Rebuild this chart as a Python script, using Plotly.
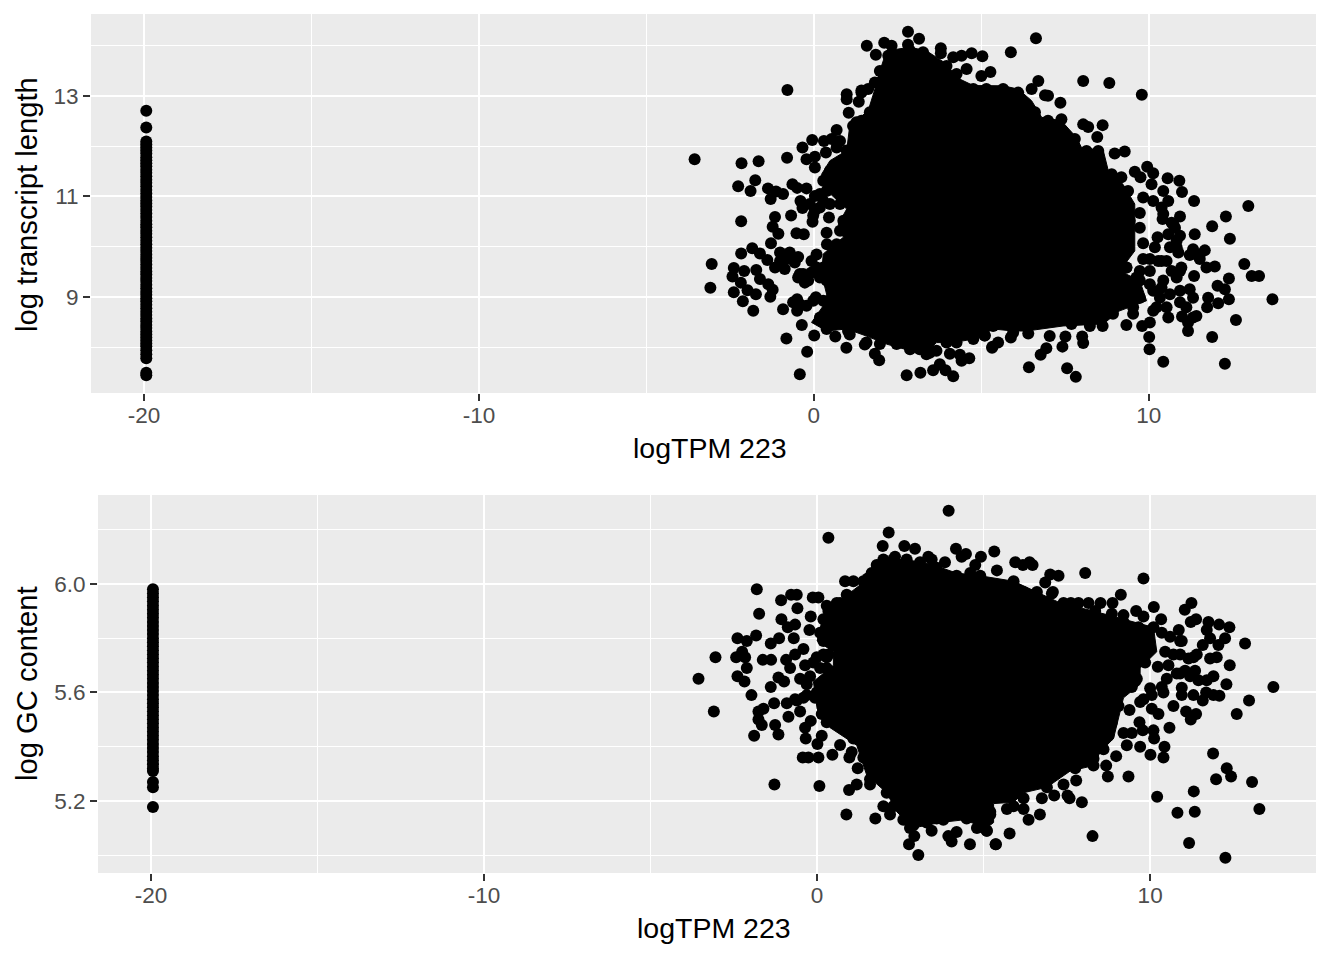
import plotly.graph_objects as go

# Panel 1: logTPM vs log transcript length
top_rail_x = -19.93
top_rail_y = [12.70, 12.37, 12.09, 12.03, 11.97, 11.91, 11.85, 11.78, 11.72, 11.66, 11.60, 11.53, 11.47, 11.40, 11.33,
              11.27, 11.20, 11.13, 11.06, 10.99, 10.92, 10.86, 10.80, 10.73, 10.66, 10.59, 10.52, 10.45, 10.39, 10.32,
              10.26, 10.19, 10.12, 10.05, 9.98, 9.92, 9.85, 9.78, 9.72, 9.65, 9.58, 9.51, 9.45, 9.38, 9.32, 9.25,
              9.18, 9.11, 9.05, 8.98, 8.92, 8.85, 8.78, 8.71, 8.65, 8.58, 8.52, 8.45, 8.39, 8.32, 8.26, 8.20, 8.14,
              8.08, 8.03, 7.95, 7.87, 7.79, 7.50, 7.45]
top_core = [(2.17,13.89),(2.87,13.96),(3.36,13.89),(3.96,13.63),(4.26,13.36),(4.76,13.20),(5.65,13.195),(6.10,13.13),
            (6.50,12.90),(6.80,12.57),(7.39,12.50),(7.84,12.17),(7.99,11.97),(8.64,11.91),(8.79,11.51),(9.23,11.24),
            (9.58,10.85),(9.58,10.38),(9.58,9.92),(9.13,9.52),(9.73,9.33),(9.93,8.93),(9.13,8.73),(8.64,8.47),
            (7.44,8.43),(6.35,8.33),(5.95,8.33),(5.35,8.37),(4.76,8.17),(4.16,8.10),(3.66,8.10),(3.36,7.90),
            (2.87,7.94),(2.17,8.07),(1.57,8.23),(0.98,8.37),(0.38,8.33),(-0.07,8.50),(0.28,8.83),(0.38,9.06),
            (0.23,9.46),(0.28,9.86),(0.88,10.19),(0.73,10.45),(0.98,10.75),(0.28,11.18),(0.23,11.44),(0.48,11.71),
            (0.98,11.91),(1.07,12.40),(1.62,12.70),(1.87,13.23),(1.97,13.49),(2.17,13.89)]
top_edge = [(1.97,13.49),(1.97,13.26),(1.67,12.67),(1.42,12.50),(1.17,12.40),(0.48,11.51),(0.28,11.31),(0.18,11.05),
    (0.78,10.85),(0.88,10.52),(0.78,10.32),(0.68,10.05),(0.28,9.59),(0.38,9.33),(0.28,8.93),(0.18,8.60),(0.38,8.37),
    (1.02,8.33),(1.57,8.10),(1.97,8.07),(2.47,8.07),(2.87,7.97),(3.16,7.97),(3.46,7.90),(3.96,8.10),(4.26,8.10),
    (4.76,8.17),(5.10,8.24),(5.35,8.43),(2.22,13.79),(2.87,13.89),(3.26,13.86),(3.96,13.59),(4.26,13.43),(4.76,13.13),
    (5.15,13.13),(5.65,13.13),(6.10,13.06),(6.50,13.13),(6.60,12.67),(6.99,12.50),(7.39,12.53),(7.79,12.14),(8.14,11.90),
    (8.49,11.90),(8.89,11.44),(9.18,11.38),(9.38,11.11),(9.43,10.52),(9.38,9.99),(9.33,9.59),(9.13,9.0),(8.93,8.67),
    (8.24,8.43),(7.69,8.47),(5.95,8.30),(9.63,9.39),(10.03,9.26),(10.13,9.13),(10.38,9.19),(9.73,8.99),(10.13,8.73),
    (10.53,8.80),(10.93,9.13),(10.63,9.06),(9.53,8.67),(10.33,8.99),(10.03,9.52),(10.68,9.52),(10.97,9.59),(9.73,9.52),
    (11.12,8.80),(11.42,8.63),(11.17,8.50),(11.52,9.85),(11.32,9.95),(10.53,9.72),(10.83,9.99),(10.43,10.65),(10.68,10.48),
    (10.78,10.38),(10.83,10.12),(10.03,9.76),(10.28,9.72),(-0.82,9.76),(-0.57,9.69),(-0.32,9.46),(-0.07,9.72),(0.08,9.59),
    (-1.01,9.72),(-0.47,9.39),(-0.17,9.33),(0.18,9.39),(-0.42,8.86),(-0.62,8.90),(-0.02,8.93),(0.28,10.91),(0.48,10.85),
    (0.18,10.78),(0.03,10.72),(-0.12,10.85),(0.68,11.97),(0.53,12.14),(0.78,12.10),(0.98,11.91),(1.27,12.47),(1.42,13.10),
    (1.82,13.26)]
top_points = [(-3.56,11.74),(-0.79,13.11),(-2.16,11.66),(-1.65,11.70),(-0.80,11.77),(-2.26,11.20),(-1.75,11.32),
    (-1.89,11.11),(-1.37,11.16),(-1.29,10.95),(-1.13,11.10),(-0.92,11.05),(-0.64,11.24),(-0.50,11.17),(-0.22,11.16),
    (-0.34,11.97),(-0.05,12.12),(0.30,12.10),(-0.22,11.74),(0.03,11.79),(0.03,11.575),(0.36,11.87),(0.68,12.32),
    (1.04,12.66),(0.98,13.03),(0.98,12.93),(1.34,12.88),(1.42,13.06),(1.62,13.13),(1.58,13.99),(1.85,13.81),
    (2.10,14.05),(2.32,13.99),(2.81,14.27),(2.81,14.01),(3.14,14.13),(3.79,13.94),(3.79,13.84),(4.16,13.76),
    (4.41,13.79),(4.71,13.84),(5.03,13.78),(4.56,13.53),(5.0,13.39),(5.27,13.47),(-2.17,10.51),(-1.16,10.59),
    (-0.68,10.62),(-1.23,10.40),(-1.06,10.26),(-0.52,10.27),(-0.30,10.25),(-1.28,10.07),(-0.40,10.91),(-0.34,10.77),
    (0.03,11.01),(0.38,11.11),(-0.02,10.62),(-0.04,10.50),(0.45,10.58),(0.38,10.28),(0.39,10.05),(-2.17,9.87),
    (-1.84,9.97),(-1.61,9.87),(-1.39,9.74),(-1.16,9.59),(-1.01,9.89),(-0.87,9.56),(-0.72,9.89),(-0.47,9.80),
    (0.08,9.85),(-3.05,9.66),(-3.09,9.19),(-2.39,9.58),(-2.43,9.41),(-2.08,9.52),(-1.72,9.54),(-1.61,9.36),
    (-2.18,9.29),(-1.36,9.26),(-1.23,9.15),(-1.98,9.14),(-1.73,9.06),(-1.30,9.01),(-2.39,9.10),(-2.12,8.92),
    (-1.81,8.73),(-0.92,8.76),(-0.50,8.96),(-0.50,8.73),(-0.22,8.83),(0.06,9.0),(-0.27,9.29),(-0.42,9.46),
    (-0.07,9.49),(-0.36,8.45),(-0.82,8.18),(0.01,8.24),(-0.20,7.92),(-0.42,7.47),(0.64,8.22),(0.97,8.0),
    (1.07,8.26),(1.52,8.06),(1.82,7.88),(1.95,7.75),(2.77,7.45),(3.18,7.50),(3.56,7.55),(3.76,7.67),(3.93,7.55),
    (4.16,7.43),(3.36,7.87),(3.66,7.94),(4.06,7.88),(4.36,7.86),(4.41,7.74),(4.64,7.79),(5.33,8.02),
    (6.63,14.14),(5.88,13.86),(6.70,13.29),(8.04,13.29),(8.82,13.25),(9.79,13.02),(6.90,13.01),(6.99,12.997),
    (7.36,12.86),(8.04,12.43),(8.19,12.38),(8.62,12.415),(8.46,12.18),(9.28,11.89),(8.98,11.85),(9.58,11.49),
    (9.75,11.38),(9.95,11.59),(10.13,11.46),(10.08,11.24),(10.56,11.36),(10.91,11.31),(10.99,11.09),(10.43,11.11),
    (11.35,10.91),(10.58,10.91),(9.83,10.98),(10.13,10.91),(10.38,10.78),(9.73,10.67),(12.97,10.81),(12.30,10.60),
    (11.89,10.41),(12.42,10.16),(10.93,10.60),(10.41,10.55),(10.73,10.45),(11.37,10.25),(10.93,10.22),(10.58,10.25),
    (10.26,10.19),(9.73,10.38),(9.83,10.07),(10.18,9.99),(10.63,9.99),(10.88,9.89),(11.22,9.84),(11.67,9.93),
    (11.72,9.59),(11.97,9.61),(11.52,9.76),(12.85,9.66),(13.07,9.42),(13.29,9.42),(13.69,8.96),(12.39,9.37),
    (11.35,9.42),(10.93,9.52),(10.38,9.72),(9.83,9.76),(10.43,9.33),(10.83,9.39),(11.22,9.16),(12.05,9.23),
    (12.27,9.16),(12.39,8.96),(12.07,8.88),(11.74,8.80),(11.77,8.99),(11.32,8.99),(10.93,8.90),(12.60,8.55),
    (11.32,8.60),(10.99,8.62),(11.17,8.33),(11.89,8.21),(10.58,8.60),(10.03,8.50),(9.80,8.43),(9.33,8.45),
    (10.23,8.80),(10.01,8.21),(10.02,7.97),(10.43,7.72),(12.27,7.68),(9.53,8.80),(9.73,9.33),(9.13,9.46),
    (9.33,9.59),(7.51,8.22),(8.01,8.22),(8.04,8.09),(7.42,8.02),(6.94,7.99),(6.77,7.86),(6.42,7.61),(7.56,7.59),
    (7.82,7.42),(5.50,8.10),(5.32,8.0),(5.88,8.20),(7.04,8.23),(6.40,8.28),(5.10,8.24),(8.62,8.43)]

# Panel 2: logTPM vs log GC content
bot_rail_x = -19.94
bot_rail_y = [5.98, 5.965, 5.95, 5.935, 5.92, 5.905, 5.89, 5.875, 5.86, 5.845, 5.83, 5.815, 5.80, 5.785, 5.77, 5.755,
              5.74, 5.725, 5.71, 5.695, 5.68, 5.665, 5.65, 5.635, 5.62, 5.605, 5.59, 5.575, 5.56, 5.545, 5.53, 5.515,
              5.50, 5.485, 5.47, 5.455, 5.44, 5.425, 5.41, 5.395, 5.38, 5.365, 5.35, 5.335, 5.32, 5.31, 5.27, 5.25,
              5.177]
bot_core = [(1.89,6.09),(2.69,6.09),(3.49,6.07),(4.19,6.04),(4.90,6.03),(5.40,6.02),(5.90,6.01),(6.60,5.97),(7.30,5.93),
            (8.30,5.90),(9.20,5.87),(10.10,5.84),(10.20,5.75),(9.70,5.69),(9.70,5.63),(9.20,5.58),(9.0,5.48),(8.90,5.43),
            (8.50,5.38),(8.30,5.33),(7.60,5.31),(6.90,5.25),(6.20,5.23),(5.90,5.195),(5.30,5.19),(5.30,5.12),(5.09,5.10),
            (4.40,5.13),(3.69,5.12),(2.89,5.10),(2.39,5.16),(2.09,5.23),(1.49,5.295),(1.19,5.405),(0.39,5.47),(0.0,5.54),
            (-0.11,5.64),(0.49,5.70),(0.49,5.75),(0.0,5.79),(0.19,5.885),(0.59,5.93),(1.29,5.996),(1.69,6.06),(1.89,6.09)]
bot_edge = [(1.64,6.04),(1.79,6.07),(1.99,6.09),(2.29,6.09),(2.69,6.09),(3.09,6.08),(3.59,6.06),(4.19,6.03),(4.60,6.04),
    (4.90,6.03),(1.39,6.01),(0.89,5.96),(0.59,5.93),(0.34,5.90),(0.19,5.87),(0.09,5.82),(0.19,5.79),(0.34,5.74),(0.29,5.69),
    (0.19,5.64),(-0.01,5.60),(0.19,5.54),(0.29,5.49),(0.69,5.48),(1.09,5.43),(1.39,5.36),(1.59,5.28),(2.09,5.23),(2.29,5.18),
    (2.69,5.13),(2.89,5.11),(3.29,5.12),(3.79,5.13),(4.49,5.135),(5.09,5.135),(5.20,5.16),(-0.11,5.71),(-0.36,5.70),
    (-0.21,5.66),(-0.31,5.59),(-0.61,5.57),(0.09,5.69),(0.19,5.74),(5.90,6.01),(6.20,5.97),(6.60,5.97),(7.05,5.965),
    (7.40,5.93),(7.85,5.93),(8.35,5.90),(8.85,5.89),(9.20,5.86),(9.65,5.84),(10.10,5.84),(10.35,5.82),(10.60,5.805),
    (10.90,5.79),(10.45,5.75),(10.70,5.74),(9.90,5.75),(9.85,5.71),(9.60,5.65),(9.45,5.62),(9.05,5.55),(8.85,5.49),
    (8.75,5.44),(8.60,5.39),(8.30,5.355),(7.75,5.32),(7.40,5.26),(6.90,5.25),(6.20,5.21),(5.90,5.18),(5.20,5.15),
    (10.55,5.70),(10.50,5.65),(10.40,5.60),(10.05,5.59),(9.70,5.565),(11.30,5.73),(11.05,5.68),(10.80,5.67)]
bot_points = [(3.95,6.27),(0.34,6.17),(2.15,6.19),(1.97,6.14),(2.62,6.14),(2.94,6.13),(2.34,6.10),(3.34,6.10),(3.44,6.09),
    (3.84,6.08),(4.17,6.13),(4.34,6.10),(4.47,6.11),(4.92,6.10),(5.32,6.12),(5.40,6.05),(4.75,6.07),(0.84,6.01),
    (1.09,6.01),(1.52,6.02),(-1.81,5.98),(-1.08,5.94),(-0.78,5.96),(-0.61,5.96),(-0.59,5.91),(-0.13,5.95),(0.04,5.95),
    (0.29,5.92),(0.69,5.93),(-1.74,5.89),(-0.19,5.88),(-1.07,5.87),(-0.66,5.85),(-0.88,5.84),(-0.23,5.83),(-0.70,5.80),
    (-2.39,5.80),(-2.11,5.79),(-1.83,5.81),(-1.14,5.80),(-1.39,5.78),(-3.05,5.73),(-2.25,5.75),(-2.43,5.73),(-2.16,5.73),
    (-2.11,5.69),(-1.63,5.72),(-1.38,5.72),(-0.93,5.72),(-0.81,5.69),(-0.41,5.76),(-0.66,5.74),(-0.01,5.73),(0.29,5.73),
    (-3.56,5.65),(-2.39,5.66),(-2.18,5.64),(-1.97,5.59),(-1.16,5.655),(-0.99,5.64),(-1.39,5.62),(-0.51,5.65),(-0.31,5.63),
    (-0.41,5.58),(-0.06,5.58),(-0.66,5.575),(-0.91,5.56),(-1.29,5.56),(-1.61,5.54),(-1.76,5.53),(-3.10,5.53),(-0.51,5.53),
    (-0.86,5.51),(-1.76,5.50),(-1.66,5.48),(-1.26,5.48),(-1.16,5.445),(-1.89,5.44),(-0.19,5.495),(-0.36,5.47),(-0.34,5.43),
    (0.14,5.52),(0.14,5.44),(0.01,5.41),(0.69,5.406),(0.46,5.37),(0.04,5.36),(-0.26,5.36),(-0.43,5.36),(0.97,5.36),
    (1.04,5.38),(1.22,5.32),(-1.28,5.26),(0.07,5.255),(0.96,5.24),(1.19,5.26),(1.59,5.26),(0.88,5.15),(1.75,5.135),
    (1.99,5.18),(2.19,5.15),(2.59,5.13),(2.79,5.10),(2.92,5.07),(2.76,5.04),(3.04,5.00),(3.44,5.09),(3.59,5.135),
    (3.94,5.07),(4.19,5.085),(4.04,5.05),(4.59,5.04),(5.37,5.04),(4.80,5.10),(5.09,5.09),
    (5.95,6.08),(6.18,6.07),(6.38,6.08),(6.47,6.07),(7.0,6.035),(7.25,6.03),(6.85,6.005),(7.08,5.97),(8.05,6.04),(9.80,6.02),
    (9.12,5.96),(8.51,5.93),(8.87,5.93),(8.15,5.93),(7.62,5.93),(10.11,5.915),(9.58,5.90),(9.80,5.88),(10.33,5.87),(9.20,5.885),
    (11.24,5.93),(11.04,5.905),(11.22,5.86),(11.38,5.87),(11.75,5.86),(12.07,5.85),(12.38,5.84),(11.70,5.83),(10.86,5.83),
    (12.25,5.80),(11.80,5.80),(12.85,5.78),(11.58,5.775),(12.05,5.775),(11.40,5.74),(11.15,5.725),(12.0,5.73),(11.80,5.725),
    (12.39,5.70),(10.95,5.79),(10.90,5.74),(10.23,5.695),(11.35,5.68),(10.90,5.67),(11.20,5.66),(11.90,5.66),(11.70,5.645),
    (11.45,5.645),(12.29,5.63),(13.70,5.62),(10.95,5.617),(10.95,5.59),(11.30,5.59),(11.58,5.57),(11.68,5.60),(11.90,5.59),
    (12.08,5.588),(12.97,5.57),(12.60,5.52),(11.38,5.52),(11.22,5.50),(11.08,5.53),(10.70,5.55),(10.35,5.62),(10.0,5.615),
    (9.80,5.575),(10.05,5.54),(10.25,5.52),(9.38,5.535),(10.58,5.47),(9.68,5.49),(10.10,5.46),(10.12,5.43),(9.78,5.46),
    (9.20,5.45),(9.45,5.45),(9.70,5.40),(9.30,5.405),(10.43,5.40),(10.01,5.37),(10.40,5.36),(11.89,5.375),(12.30,5.32),
    (12.43,5.29),(11.98,5.28),(13.06,5.27),(8.98,5.365),(8.68,5.33),(8.73,5.29),(9.35,5.29),(8.30,5.33),(7.78,5.275),
    (7.52,5.22),(7.58,5.21),(7.95,5.195),(7.12,5.22),(6.75,5.21),(6.69,5.15),(6.35,5.13),(10.21,5.215),(11.31,5.235),
    (10.82,5.156),(11.34,5.16),(13.28,5.17),(5.78,5.08),(5.36,5.04),(8.27,5.07),(11.17,5.045),(12.26,4.99),(5.10,5.09),
    (6.20,5.17),(5.70,5.17)]

x_ticks = [-20, -10, 0, 10]
x_labels = ["-20", "-10", "0", "10"]
x_minor = [-15, -5, 5, 15]
top_y_ticks = [9, 11, 13]
top_y_labels = ["9", "11", "13"]
top_y_minor = [8, 10, 12, 14]
bot_y_ticks = [5.2, 5.6, 6.0]
bot_y_labels = ["5.2", "5.6", "6.0"]
bot_y_minor = [5.0, 5.4, 5.8, 6.2]

FONT = "Liberation Sans"
MS = 12
fig = go.Figure()


def panel(rail_x, rail_y, core, edge, points, xa, ya):
    fig.add_trace(go.Scatter(x=[c[0] for c in core], y=[c[1] for c in core], mode="lines", fill="toself",
                             fillcolor="black", line=dict(color="black", width=1), xaxis=xa, yaxis=ya,
                             hoverinfo="skip"))
    fig.add_trace(go.Scatter(x=[rail_x] * len(rail_y), y=rail_y, mode="markers",
                             marker=dict(color="black", size=MS, line=dict(width=0)), xaxis=xa, yaxis=ya))
    all_points = list(edge) + list(points)
    fig.add_trace(go.Scatter(x=[p[0] for p in all_points], y=[p[1] for p in all_points], mode="markers",
                             marker=dict(color="black", size=MS, line=dict(width=0)), xaxis=xa, yaxis=ya))


panel(top_rail_x, top_rail_y, top_core, top_edge, top_points, "x", "y")
panel(bot_rail_x, bot_rail_y, bot_core, bot_edge, bot_points, "x2", "y2")


def axis(domain, rng, ticks, labels, minor, anchor, standoff=0):
    return dict(domain=domain, range=rng, anchor=anchor, tickmode="array", tickvals=ticks, ticktext=labels,
                ticks="outside", ticklen=7, tickwidth=2.2, tickcolor="#333333", ticklabelstandoff=standoff,
                tickfont=dict(family=FONT, size=22.5, color="#4D4D4D"),
                showgrid=True, gridcolor="white", gridwidth=2.2, zeroline=False, showline=False,
                minor=dict(tickmode="array", tickvals=minor, showgrid=True, gridcolor="white", gridwidth=1.1,
                           ticks=""))


def label(text, px, py, angle=0, size=28.5):
    return dict(text=text, x=px / 1344, y=1 - py / 960, xref="paper", yref="paper", showarrow=False, textangle=angle,
                xanchor="center", yanchor="middle", font=dict(family=FONT, size=size, color="black"))


fig.update_layout(
    width=1344, height=960, autosize=False, showlegend=False,
    margin=dict(l=0, r=0, t=0, b=0), paper_bgcolor="white", plot_bgcolor="#EBEBEB",
    xaxis=axis([91 / 1344, 1316 / 1344], [-21.58, 14.99], x_ticks, x_labels, x_minor, "y", -5),
    yaxis=axis([1 - 393 / 960, 1 - 14 / 960], [7.10, 14.62], top_y_ticks, top_y_labels, top_y_minor, "x"),
    xaxis2=axis([98 / 1344, 1316 / 1344], [-21.59, 14.98], x_ticks, x_labels, x_minor, "y2", -5),
    yaxis2=axis([1 - 873 / 960, 1 - 495 / 960], [4.934, 6.328], bot_y_ticks, bot_y_labels, bot_y_minor, "x2"),
    annotations=[label("logTPM 223", 709.5, 448), label("log transcript length", 27, 205, -90, 29.2),
                 label("logTPM 223", 713.5, 928), label("log GC content", 27, 684, -90, 29.2)],
)

fig.write_html("out.html", config={"displayModeBar": False}, post_script="document.body.style.margin='0';")
